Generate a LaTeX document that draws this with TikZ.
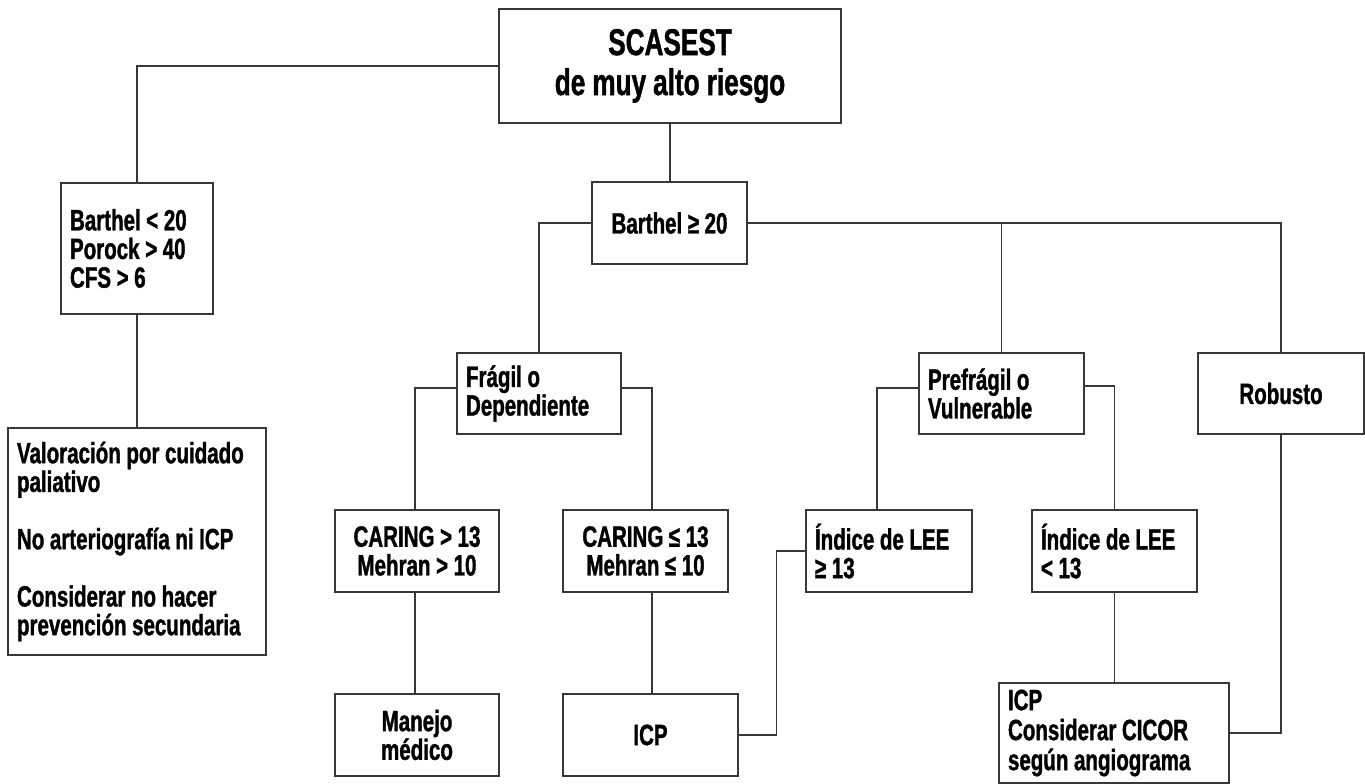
\documentclass[tikz,border=0pt]{standalone}
\usepackage{fontspec}
\setmainfont{Liberation Sans}[FakeStretch=0.70,FakeBold=1.2]
\usetikzlibrary{calc}
\newcommand\tightsp{\setlength{\spaceskip}{0.19em}}
\begin{document}
\begin{tikzpicture}[x=0.75pt,y=-0.75pt,
  box/.style={draw=black!78, line width=1pt, inner xsep=6.75pt, inner ysep=0pt,
    font=\bfseries\fontsize{22}{21.5}\selectfont},
  lbox/.style={box, align=left, execute at begin node={\tightsp}},
  cbox/.style={box, align=center, execute at begin node={\tightsp}},
  link/.style={draw=black!78, line width=1pt}]
\useasboundingbox (0,0) rectangle (1365,784);

\node[cbox, minimum width=256.5pt, minimum height=85.5pt,
  font=\bfseries\fontsize{28}{30}\selectfont] (top) at (670,66) {SCASEST\\de muy alto riesgo};
\node[lbox, text width=100.5pt, minimum height=98.25pt] (b1) at (137,248.5) {Barthel < 20\\Porock > 40\\CFS > 6};
\node[cbox, minimum width=116.25pt, minimum height=61.5pt] (b2) at (669.5,223) {Barthel ≥ 20};
\node[lbox, text width=109.5pt, minimum height=60.75pt] (fr) at (539,393.5) {Frágil o\\Dependiente};
\node[lbox, text width=110.25pt, minimum height=60.75pt] (pf) at (1001.5,393.5) {Prefrágil o\\Vulnerable};
\node[cbox, minimum width=124.5pt, minimum height=60.75pt] (rb) at (1281,393.5) {Robusto};
\node[lbox, text width=180pt, minimum height=170.25pt] (val) at (137,541.5)
  {Valoración por cuidado\\paliativo\\[21.5pt]No arteriografía ni ICP\\[21.5pt]Considerar no hacer\\prevención secundaria};
\node[cbox, minimum width=123pt, minimum height=61.5pt] (c1) at (417,551) {CARING > 13\\Mehran > 10};
\node[cbox, minimum width=123.75pt, minimum height=61.5pt] (c2) at (645.5,551) {CARING ≤ 13\\Mehran ≤ 10};
\node[lbox, text width=111pt, minimum height=61.5pt] (l1) at (889,551) {Índice de LEE\\≥ 13};
\node[lbox, text width=110.25pt, minimum height=61.5pt] (l2) at (1114.5,551) {Índice de LEE\\< 13};
\node[cbox, minimum width=123pt, minimum height=61.5pt] (mm) at (417,735) {Manejo\\médico};
\node[cbox, minimum width=131.25pt, minimum height=61.5pt] (icp) at (650.5,735) {ICP};
\node[lbox, text width=159pt, minimum height=75pt,
  font=\bfseries\fontsize{22}{22.5}\selectfont] (icp2) at (1114,733) {ICP\\Considerar CICOR\\según angiograma};

\coordinate (xa) at (652,0);
\coordinate (xb) at (877,0);
\coordinate (xc) at (415,0);

\draw[link] (top.west) -| (b1.north);
\draw[link] (b1.south) -- (val.north);
\draw[link] (top.south) -- (top.south |- b2.north);
\draw[link] (b2.west) -| (fr.north);
\draw[link] (b2.east) -| (rb.north);
\draw[link] (pf.north) |- (b2.east);
\draw[link] ($(fr.west)+(0,-5.5)$) -| (xc |- c1.north);
\draw[link] (xc |- c1.south) -- (xc |- mm.north);
\draw[link] ($(fr.east)+(0,-5.5)$) -| (xa |- c2.north);
\draw[link] (xa |- c2.south) -- (xa |- icp.north);
\draw[link] ($(pf.west)+(0,-5.5)$) -| (xb |- l1.north);
\draw[link] ($(pf.east)+(0,-7.5)$) -| (l2.north);
\draw[link] (l2.south) -- (l2.south |- icp2.north);
\draw[link] (icp.east) -- ++(38,0) |- (l1.west);
\draw[link] (rb.south) |- (icp2.east);
\end{tikzpicture}
\end{document}
